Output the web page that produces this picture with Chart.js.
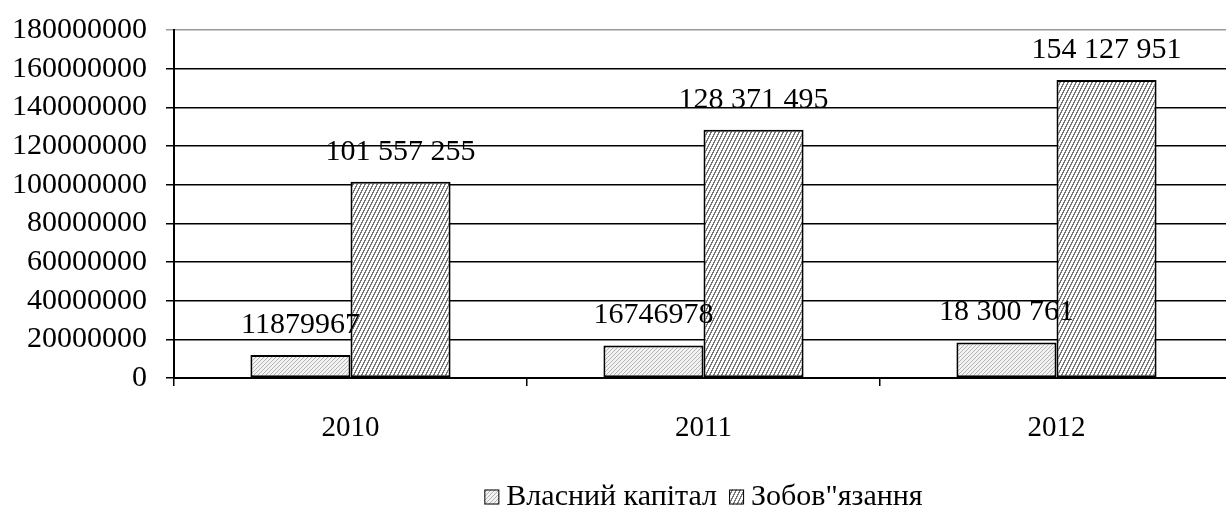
<!DOCTYPE html>
<html>
<head>
<meta charset="utf-8">
<script src="https://cdn.jsdelivr.net/npm/chart.js@4.4.0/dist/chart.umd.min.js"></script>
<style>
  html, body { margin: 0; padding: 0; background: #fff; overflow: hidden; }
  #wrap { width: 1240px; height: 513px; }
</style>
</head>
<body>
<div id="wrap"><canvas id="grafico" width="1240" height="513"></canvas></div>
<script>
const roky = ['2010', '2011', '2012'];
const vlasnyiKapital = [11879967, 16746978, 18300761];
const zobovyazannya = [101557255, 128371495, 154127951];
const vlasnyiPidpysy = ['11879967', '16746978', '18 300 761'];
const zobovPidpysy = ['101 557 255', '128 371 495', '154 127 951'];
const yMax = 180000000;
const yKrok = 20000000;

const SHRYFT = '"Liberation Serif", "DejaVu Serif", "Times New Roman", serif';
const canvas = document.getElementById('grafico');
const ctx = canvas.getContext('2d');

// штриховка
function shtrykh(fon, liniya, w, h, test) {
  const c = document.createElement('canvas');
  c.width = w; c.height = h;
  const g = c.getContext('2d');
  g.fillStyle = fon;
  g.fillRect(0, 0, w, h);
  g.fillStyle = liniya;
  for (let y = 0; y < h; y++) {
    for (let x = 0; x < w; x++) {
      if (test(x, y)) g.fillRect(x, y, 1, 1);
    }
  }
  return ctx.createPattern(c, 'repeat');
}

const svitlyi = shtrykh('#f2f2f2', '#b4b4b4', 4, 4, (x, y) => (x + y) % 4 === 0);
const temnyi = shtrykh('#ffffff', '#777777', 4, 8, (x, y) => (2 * x + y) % 8 < 3);

const pidpysy = {
  id: 'pidpysy',
  afterDatasetsDraw(chart) {
    const c = chart.ctx;
    c.save();
    c.font = '30px ' + SHRYFT;
    c.fillStyle = '#000';
    c.textAlign = 'center';
    c.textBaseline = 'middle';
    chart.data.datasets.forEach((ds, i) => {
      const meta = chart.getDatasetMeta(i);
      meta.data.forEach((bar, j) => {
        c.fillText(ds.pidpysy[j], bar.x, bar.y - 30);
      });
    });
    c.restore();
  }
};

const legenda = {
  id: 'legenda',
  afterDraw(chart) {
    const c = chart.ctx;
    const area = chart.chartArea;
    c.save();
    c.font = '30px ' + SHRYFT;
    c.textBaseline = 'middle';
    const box = 15, gap = 7, mizh = 12;
    const items = chart.data.datasets.map(ds => ({ text: ds.label, fill: ds.backgroundColor }));
    let total = 0;
    items.forEach((it, i) => {
      it.w = c.measureText(it.text).width;
      total += box + gap + it.w + (i < items.length - 1 ? mizh : 0);
    });
    let x = (area.left + area.right) / 2 - total / 2;
    const y = 497;
    items.forEach(it => {
      c.fillStyle = it.fill;
      c.fillRect(x, y - box / 2, box, box);
      c.strokeStyle = '#000';
      c.lineWidth = 1;
      c.strokeRect(x + 0.5, y - box / 2 + 0.5, box - 1, box - 1);
      c.fillStyle = '#000';
      c.fillText(it.text, x + box + gap, y);
      x += box + gap + it.w + mizh;
    });
    c.restore();
  }
};

new Chart(ctx, {
  type: 'bar',
  data: {
    labels: roky,
    datasets: [
      {
        label: 'Власний капітал',
        data: vlasnyiKapital,
        pidpysy: vlasnyiPidpysy,
        backgroundColor: svitlyi,
        borderColor: '#000',
        borderWidth: 2,
        borderSkipped: false
      },
      {
        label: 'Зобов"язання',
        data: zobovyazannya,
        pidpysy: zobovPidpysy,
        backgroundColor: temnyi,
        borderColor: '#000',
        borderWidth: 2,
        borderSkipped: false
      }
    ]
  },
  options: {
    responsive: false,
    animation: false,
    datasets: { bar: { categoryPercentage: 0.567, barPercentage: 1 } },
    layout: { padding: { top: 30, right: 7, left: 0, bottom: 0 } },
    plugins: {
      legend: { display: false },
      tooltip: { enabled: false }
    },
    scales: {
      x: {
        afterFit: s => { s.height = 135; },
        grid: {
          offset: true,
          drawOnChartArea: false,
          drawTicks: true,
          tickLength: 8,
          color: '#000',
          lineWidth: 1.5
        },
        border: { display: true, color: '#000', width: 2 },
        ticks: {
          padding: 25,
          color: '#000',
          font: { family: SHRYFT, size: 29 }
        }
      },
      y: {
        min: 0,
        max: yMax,
        afterFit: s => { s.width = 174; s.paddingTop = 0; s.paddingBottom = 0; },
        grid: {
          color: c => (c.tick && c.tick.value === yMax ? '#9a9a9a' : '#000'),
          lineWidth: 1.5,
          drawTicks: true,
          tickLength: 8
        },
        border: { display: true, color: '#000', width: 2 },
        ticks: {
          stepSize: yKrok,
          autoSkip: false,
          padding: 19,
          color: '#000',
          font: { family: SHRYFT, size: 30 },
          callback: v => String(v)
        }
      }
    }
  },
  plugins: [pidpysy, legenda]
});
</script>
</body>
</html>
